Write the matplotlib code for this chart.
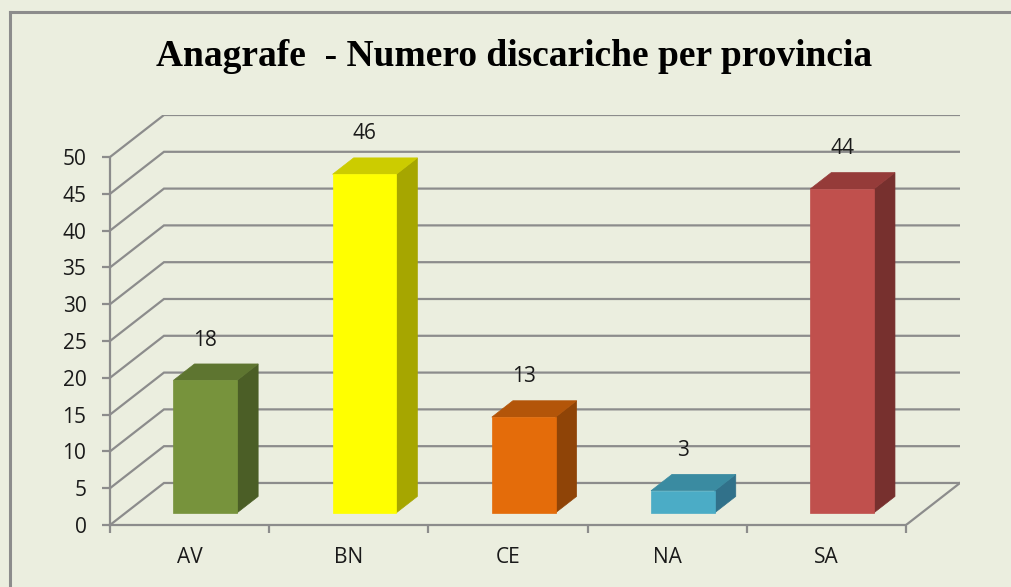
import matplotlib
matplotlib.use('Agg')
import matplotlib.pyplot as plt
from matplotlib.patches import Polygon
from matplotlib.lines import Line2D

# chart data
provinces = ['AV', 'BN', 'CE', 'NA', 'SA']
discariche = [18, 46, 13, 3, 44]
front_colors = ['#77933C', '#FFFF00', '#E46C0A', '#4BACC6', '#C0504D']
top_colors = ['#5E7530', '#CCCC00', '#B35509', '#3A8BA1', '#953B39']
side_colors = ['#4B5E26', '#A6A600', '#8F4407', '#31718A', '#77302E']
yticks = list(range(0, 55, 5))

bg = '#EBEEDF'
grid_col = '#8C8C8C'
txt_font = 'Open Sans'

# oblique 3D projection: depth offset in data units
DZX = 0.339   # category units per unit of depth
DZY = 5.71    # value units per unit of depth


def proj(x, y, z):
    return (x + z * DZX, y + z * DZY)


fig = plt.figure(figsize=(10.11, 5.87), dpi=100)
fig.patch.set_facecolor(bg)

# outer chart border (left and top visible)
fig.add_artist(Line2D([10 / 1011, 10 / 1011], [0, 1 - 12 / 587], color=grid_col, lw=2.2))
fig.add_artist(Line2D([10 / 1011, 1], [1 - 12 / 587, 1 - 12 / 587], color=grid_col, lw=2.2))

ax = fig.add_axes([110 / 1011, 62 / 587, 850 / 1011, 410 / 587])
ax.set_facecolor('none')
n = len(provinces)
ax.set_xlim(0, n + DZX)
ax.set_ylim(0, 50 + DZY)

# back wall gridlines + side wall diagonals
for v in yticks:
    p0 = proj(0, v, 0)
    p1 = proj(0, v, 1)
    p2 = proj(n, v, 1)
    ax.plot([p0[0], p1[0], p2[0]], [p0[1], p1[1], p2[1]], color=grid_col, lw=1.6,
            solid_joinstyle='miter', zorder=1)
# floor right edge
f0 = proj(n, 0, 0)
f1 = proj(n, 0, 1)
ax.plot([f0[0], f1[0]], [f0[1], f1[1]], color=grid_col, lw=1.6, zorder=1)

# bars
bw = 0.4
z0, z1 = 0.29, 0.68
for i, (val, fc, tc, sc) in enumerate(zip(discariche, front_colors, top_colors, side_colors)):
    xl = i + 0.5 - bw / 2
    xr = i + 0.5 + bw / 2
    front = [proj(xl, 0, z0), proj(xr, 0, z0), proj(xr, val, z0), proj(xl, val, z0)]
    top = [proj(xl, val, z0), proj(xr, val, z0), proj(xr, val, z1), proj(xl, val, z1)]
    side = [proj(xr, 0, z0), proj(xr, 0, z1), proj(xr, val, z1), proj(xr, val, z0)]
    for poly, col in ((side, sc), (top, tc), (front, fc)):
        ax.add_patch(Polygon(poly, closed=True, facecolor=col, edgecolor=col, lw=0.5, zorder=3))
    lx, ly = proj(i + 0.5, val, z0)
    ax.annotate(str(val), (lx, ly), xytext=(0, 29), textcoords='offset points',
                ha='center', va='center', fontsize=15, family=txt_font, color='#1A1A1A', zorder=4)

# axes styling
for s in ['top', 'right']:
    ax.spines[s].set_visible(False)
for s in ['left', 'bottom']:
    ax.spines[s].set_color(grid_col)
    ax.spines[s].set_linewidth(1.6)
ax.spines['left'].set_bounds(0, 50)
ax.spines['bottom'].set_bounds(0, n)

ax.set_yticks(yticks)
ax.set_yticklabels([str(v) for v in yticks], fontsize=15, family=txt_font, color='#1A1A1A')
ax.set_xticks(range(n + 1))
ax.set_xticklabels([''] * (n + 1))
ax.set_xticks([i + 0.5 for i in range(n)], minor=True)
ax.set_xticklabels(provinces, minor=True, fontsize=15, family=txt_font, color='#1A1A1A')
ax.tick_params(axis='y', which='major', length=6, width=1.6, color=grid_col, pad=11)
ax.tick_params(axis='x', which='major', length=6, width=1.6, color=grid_col)
ax.tick_params(axis='x', which='minor', length=0, pad=16)

fig.text(514 / 1011, 1 - 57 / 587, 'Anagrafe  - Numero discariche per provincia',
         ha='center', va='center', fontsize=27, fontweight='bold', family='Liberation Serif')

fig.savefig('out.png', dpi=100, facecolor=bg)
